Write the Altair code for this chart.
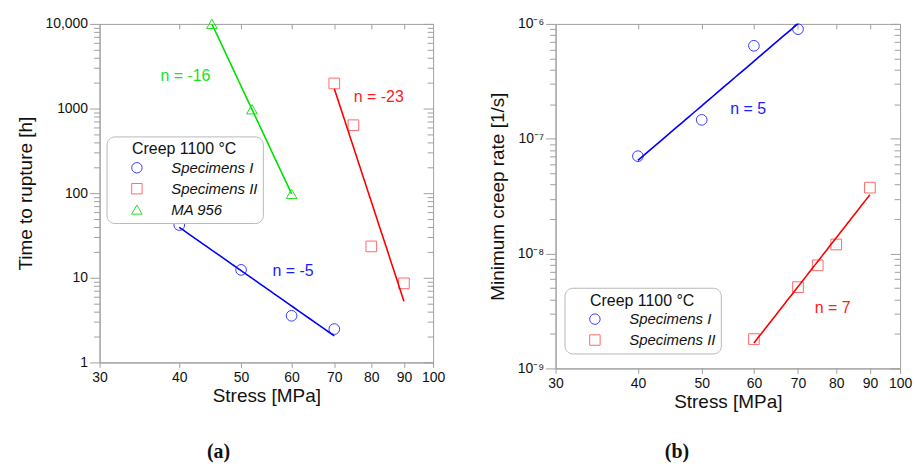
import altair as alt
import pandas as pd

FONT = "Liberation Sans"
AXIS_GREY = "#a0a0a0"

# ---- (a) time to rupture -------------------------------------------------
rupt_stress_I = [40, 50, 60, 70]
rupt_time_I = [42, 12.4, 3.56, 2.48]
rupt_stress_II = [70, 75, 80, 90]
rupt_time_II = [1980, 635, 23.5, 8.6]
rupt_stress_MA = [45, 52, 60]
rupt_time_MA = [10000, 980, 98]

# ---- (b) minimum creep rate ---------------------------------------------
rate_stress_I = [40, 50, 60, 70]
rate_I = [7.05e-8, 1.46e-7, 6.45e-7, 9.0e-7]
rate_stress_II = [60, 70, 75, 80, 90]
rate_II = [1.8e-9, 5.1e-9, 7.9e-9, 1.2e-8, 3.75e-8]

series_names = ["Specimens I", "Specimens II", "MA 956"]
marker_colors = ["#3b3bff", "#ff6a6a", "#22dd22"]
line_colors = ["#0000ff", "#ff0000", "#00e000"]
text_colors = ["#1a1aff", "#ff1a1a", "#22dd22"]
marker_shapes = ["circle", "square", "triangle-up"]

stress_ticks = [30, 40, 50, 60, 70, 80, 90, 100]
inner_stress_ticks = [40, 50, 60, 70, 80, 90]

# stress exponent annotations
notes_a_text = ["n = -16", "n = -23", "n = -5"]
notes_a_x = [40.9, 82.2, 60.3]
notes_a_y = [2415, 1374, 11.9]
notes_a_color = [text_colors[2], text_colors[1], text_colors[0]]

notes_b_text = ["n = 5", "n = 7"]
notes_b_x = [58.8, 79.0]
notes_b_y = [1.81e-7, 3.33e-9]
notes_b_color = [text_colors[0], text_colors[1]]

# log-axis tick positions: 1..9 within every decade
time_ticks = [k * 10 ** e for e in range(0, 4) for k in range(1, 10)] + [10000]
rate_ticks = [k * 10.0 ** e for e in range(-9, -6) for k in range(1, 10)] + [1e-6]

IS_DECADE = "abs(log(datum.value)/LN10 - round(log(datum.value)/LN10)) < 1e-6"
SUP = {"0": "\u2070", "1": "\u00b9", "2": "\u00b2", "3": "\u00b3", "4": "\u2074",
       "5": "\u2075", "6": "\u2076", "7": "\u2077", "8": "\u2078", "9": "\u2079"}

time_label_expr = (
    f"({IS_DECADE}) ? (datum.value > 9999 ? '10,000' : format(datum.value, 'd')) : ''"
)
rate_sup = " : ".join(
    f"round(log(datum.value)/LN10) == -{d} ? '10\u207b{SUP[str(d)]}'" for d in range(6, 10)
)
rate_label_expr = f"({IS_DECADE}) ? ({rate_sup} : '') : ''"


def long_df(stress, values, name):
    return pd.DataFrame({"stress": stress, "value": values, "series": name})


def panel(points_df, names, y_domain, y_title, y_ticks, y_label_expr,
          notes_df, legend_x, legend_y, width, height, caption, caption_dx, caption_offset):
    x_scale = alt.Scale(type="log", domain=[30, 100], nice=False)
    y_scale = alt.Scale(type="log", domain=y_domain, nice=False)
    idx = [series_names.index(n) for n in names]

    legend = alt.Legend(
        title="Creep 1100 °C", orient="none", legendX=legend_x, legendY=legend_y,
        titleFont=FONT, titleFontSize=16, titleFontWeight="normal", titleColor="#111111",
        titleAnchor="middle", titlePadding=3,
        labelFont=FONT, labelFontSize=15, labelFontStyle="italic", labelColor="#111111",
        labelOffset=27, symbolOffset=18, symbolSize=110, symbolStrokeWidth=1,
        rowPadding=5, padding=5, strokeColor="#b8b8b8", cornerRadius=8,
        fillColor="#ffffff",
    )

    points = alt.Chart(points_df).mark_point(filled=False, size=115, strokeWidth=1, opacity=1).encode(
        x=alt.X("stress:Q", scale=x_scale, axis=alt.Axis(
            values=stress_ticks, format="d", title="Stress [MPa]", labelFlush=False,
            labelOverlap=False, tickSize=5, labelPadding=3, titlePadding=2, grid=False,
            domainColor=AXIS_GREY, tickColor=AXIS_GREY)),
        y=alt.Y("value:Q", scale=y_scale, axis=alt.Axis(
            values=y_ticks, labelExpr=y_label_expr, title=y_title, labelOverlap=False,
            labelFlush=False, tickSize={"condition": {"test": IS_DECADE, "value": 10}, "value": 6},
            labelPadding=2, titlePadding=10, grid=False,
            domainColor=AXIS_GREY, tickColor=AXIS_GREY)),
        color=alt.Color("series:N", scale=alt.Scale(domain=names, range=[marker_colors[i] for i in idx]),
                        legend=legend),
        shape=alt.Shape("series:N", scale=alt.Scale(domain=names, range=[marker_shapes[i] for i in idx]),
                        legend=legend),
    )

    # power-law fit for each series (straight line in log-log space)
    lines = []
    for i, name in zip(idx, names):
        lines.append(
            alt.Chart(points_df).transform_filter(alt.datum.series == name)
            .transform_regression("stress", "value", method="pow")
            .mark_line(color=line_colors[i], strokeWidth=1.6, clip=True)
            .encode(
                x=alt.X("stress:Q", scale=x_scale, axis=None),
                y=alt.Y("value:Q", scale=y_scale, axis=None),
            )
        )

    # exponent labels; this layer also carries the inward ticks on the top and right frame
    notes = alt.Chart(notes_df).mark_text(font=FONT, fontSize=16).encode(
        x=alt.X("x:Q", scale=x_scale, axis=alt.Axis(
            orient="bottom", offset=-height, values=inner_stress_ticks, labels=False,
            domain=False, title=None, grid=False, tickSize=5, tickColor=AXIS_GREY)),
        y=alt.Y("y:Q", scale=y_scale, axis=alt.Axis(
            orient="left", offset=-width, values=y_ticks, labels=False, domain=False,
            title=None, grid=False,
            tickSize={"condition": {"test": IS_DECADE, "value": 10}, "value": 6},
            tickColor=AXIS_GREY)),
        text="label:N",
        color=alt.Color("color:N", scale=None),
    )

    return (
        alt.layer(points, *lines, notes)
        .resolve_axis(x="independent", y="independent")
        .properties(
            width=width, height=height,
            title=alt.TitleParams(caption, orient="bottom", anchor="middle", font="Liberation Serif",
                                  fontSize=20, fontWeight="bold", color="#111111",
                                  offset=caption_offset, dx=caption_dx),
        )
    )


points_a = pd.concat([
    long_df(rupt_stress_I, rupt_time_I, "Specimens I"),
    long_df(rupt_stress_II, rupt_time_II, "Specimens II"),
    long_df(rupt_stress_MA, rupt_time_MA, "MA 956"),
])
points_b = pd.concat([
    long_df(rate_stress_I, rate_I, "Specimens I"),
    long_df(rate_stress_II, rate_II, "Specimens II"),
])
notes_a = pd.DataFrame({"x": notes_a_x, "y": notes_a_y, "label": notes_a_text, "color": notes_a_color})
notes_b = pd.DataFrame({"x": notes_b_x, "y": notes_b_y, "label": notes_b_text, "color": notes_b_color})

left = panel(points_a, series_names, [1, 10000], "Time to rupture [h]", time_ticks, time_label_expr,
             notes_a, 7, 113, 335, 340, "(a)", -48, 37)
right = panel(points_b, series_names[:2], [1e-9, 1e-6], "Minimum creep rate [1/s]", rate_ticks,
              rate_label_expr, notes_b, 9, 265, 346, 346, "(b)", -51, 31)

chart = (
    alt.hconcat(left, right, spacing=41)
    .resolve_scale(color="independent", shape="independent")
    .resolve_legend(color="independent", shape="independent")
    .properties(padding={"left": 15, "top": 15, "right": 2, "bottom": 2}, background="#ffffff")
    .configure_view(stroke=AXIS_GREY, strokeWidth=1)
    .configure_axis(labelFont=FONT, labelFontSize=14, labelColor="#111111",
                    titleFont=FONT, titleFontSize=19, titleFontWeight="normal", titleColor="#111111")
)

chart.save("out.html", embed_options={"renderer": "svg", "actions": False})
